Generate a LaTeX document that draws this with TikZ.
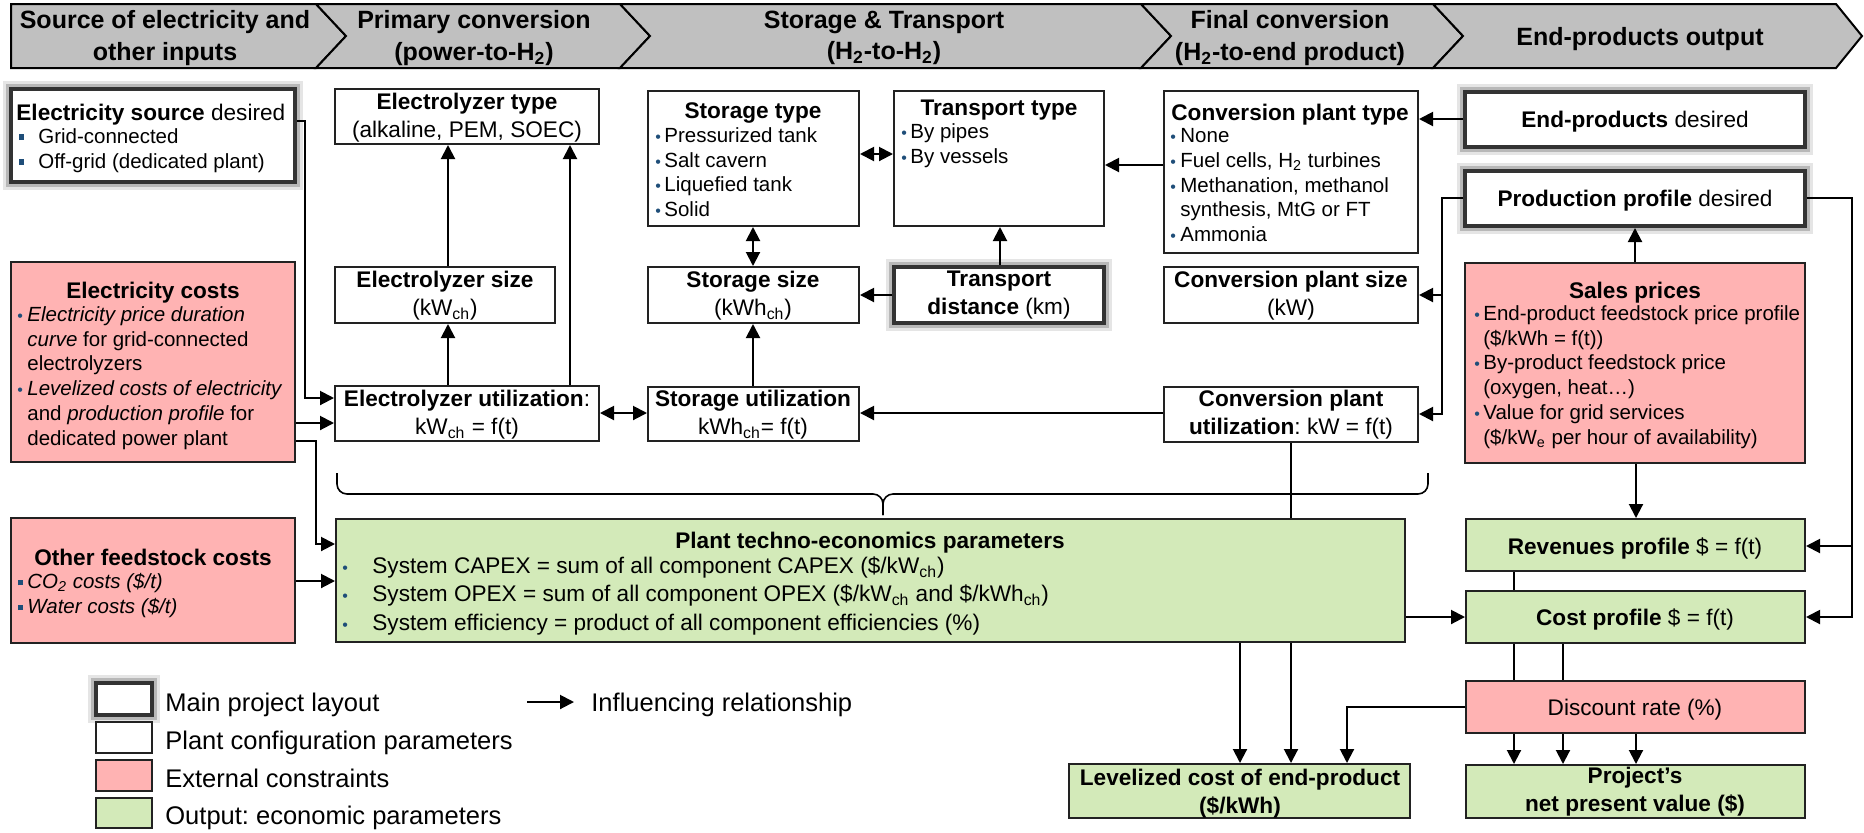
\documentclass[tikz,border=0pt]{standalone}
\usepackage{fontspec}
\setmainfont{Liberation Sans}
\usetikzlibrary{arrows.meta,fit,calc}
\frenchspacing
\definecolor{pinkf}{HTML}{FFB3B3}
\definecolor{greenf}{HTML}{D3EAB9}
\definecolor{bul}{HTML}{1F4E79}
\definecolor{bord}{HTML}{222222}
\definecolor{bann}{HTML}{C0C0C0}
\newcommand\Tf{\fontsize{11.3}{14}\selectfont}
\newcommand\Lf{\fontsize{10.25}{12.4}\selectfont}
\newcommand\Pf{\fontsize{11.3}{14.25}\selectfont}
\newcommand\Bf{\fontsize{12.5}{15.8}\selectfont\bfseries}
\newcommand\Gf{\fontsize{12.75}{15}\selectfont}
\newcommand\bu[1][4.5pt]{\makebox[#1][l]{\textcolor{bul}{\fontsize{8}{8}\selectfont •}}}
\newcommand\sqb[1][9.5pt]{\makebox[#1][l]{\textcolor{bul}{\rule[1.6pt]{2.4pt}{2.8pt}}}}
\newcommand\sub[1]{\textsubscript{#1}}
\tikzset{
 cfg/.style={draw=bord, line width=1pt, fill=white, inner sep=0},
 ext/.style={cfg, fill=pinkf},
 outp/.style={cfg, fill=greenf},
 mainbox/.style={draw=black!80, line width=2pt, fill=white, inner sep=0,
   preaction={draw=black!10, line width=8pt}, preaction={draw=black!28, line width=5pt}},
 tx/.style={inner sep=0, align=center, anchor=north, font=\Tf, execute at begin node=\strut, yshift=5.75pt},
 txl/.style={tx, align=left, anchor=north west},
 li/.style={inner sep=0, align=left, anchor=north west, font=\Lf, execute at begin node=\strut, yshift=5pt},
 pl/.style={inner sep=0, align=left, anchor=north west, font=\Pf, execute at begin node=\strut, yshift=5.93pt},
 bn/.style={inner sep=0, align=center, anchor=north, font=\Bf, execute at begin node=\strut, yshift=6.6pt},
 lg/.style={inner sep=0, anchor=north west, font=\Gf, execute at begin node=\strut, yshift=5.94pt},
 arr/.style={draw=black, line width=1pt, -{Triangle[length=7pt,width=7pt]}},
 darr/.style={draw=black, line width=1pt, {Triangle[length=7pt,width=7pt]}-{Triangle[length=7pt,width=7pt]}},
 ln/.style={draw=black, line width=1pt},
 seg/.style={fill=bann, draw=black, line width=1pt, line join=miter},
}
\begin{document}
\begin{tikzpicture}[x=0.5pt,y=-0.5pt]
\useasboundingbox (0,0) rectangle (1864,832);
% banner
\path[seg] (11,4) -- (316,4) -- (346,36) -- (316,68) -- (11,68) -- cycle;
\path[seg] (316,4) -- (620,4) -- (650,36) -- (620,68) -- (316,68) -- (346,36) -- cycle;
\path[seg] (620,4) -- (1141,4) -- (1171,36) -- (1141,68) -- (620,68) -- (650,36) -- cycle;
\path[seg] (1141,4) -- (1433,4) -- (1463,36) -- (1433,68) -- (1141,68) -- (1171,36) -- cycle;
\path[seg] (1433,4) -- (1836,4) -- (1862,36) -- (1836,68) -- (1433,68) -- (1463,36) -- cycle;
\node[bn] (h1) at (165,23.5) {Source of electricity and\\other inputs};
\node[bn] (h2) at (474,23.5) {Primary conversion\\(power-to-H\sub{2})};
\node[bn] (h3) at (884,23.5) {Storage \& Transport\\(H\sub{2}-to-H\sub{2})};
\node[bn] (h4) at (1290,23.5) {Final conversion\\(H\sub{2}-to-end product)};
\node[bn] (h5) at (1640,36) {End-products output};

% brace
\draw[ln, line width=0.8pt, rounded corners=5pt] (337,473) -- (337,494) -- (883,494) -- (883,515);
\draw[ln, line width=0.8pt, rounded corners=5pt] (1428,473) -- (1428,494) -- (883,494) -- (883,515);

% boxes
\node[mainbox, fit={(11,89) (295,182)}] (esrc) {};
\node[cfg, fit={(335,89) (599,144)}] (elt) {};
\node[cfg, fit={(335,267) (555,323)}] (els) {};
\node[cfg, fit={(335,386) (599,441)}] (elu) {};
\node[cfg, fit={(648,91) (859,226)}] (stt) {};
\node[cfg, fit={(894,91) (1104,226)}] (tt) {};
\node[cfg, fit={(648,267) (859,323)}] (sts) {};
\node[mainbox, fit={(894,267) (1104,323)}] (td) {};
\node[cfg, fit={(648,387) (859,441)}] (stu) {};
\node[cfg, fit={(1164,91) (1418,253)}] (cpt) {};
\node[cfg, fit={(1164,267) (1418,323)}] (cps) {};
\node[cfg, fit={(1164,387) (1418,442)}] (cpu) {};
\node[mainbox, fit={(1465,92) (1805,147)}] (epd) {};
\node[mainbox, fit={(1465,171) (1805,226)}] (ppd) {};
\node[ext, fit={(1465,263) (1805,463)}] (spr) {};
\node[ext, fit={(11,262) (295,462)}] (ecost) {};
\node[ext, fit={(11,518) (295,643)}] (ofc) {};
\node[outp, fit={(336,519) (1405,642)}] (pte) {};
\node[outp, fit={(1466,519) (1805,571)}] (rev) {};
\node[outp, fit={(1466,591) (1805,643)}] (cost) {};
\node[ext, fit={(1466,681) (1805,733)}] (dr) {};
\node[outp, fit={(1466,765) (1805,818)}] (npv) {};
\node[outp, fit={(1069,764) (1410,818)}] (lco) {};
% legend boxes
\node[mainbox, fit={(96,683) (152,715)}] (lg1) {};
\node[cfg, fit={(96,722) (152,753)}] (lg2) {};
\node[ext, fit={(96,760) (152,791)}] (lg3) {};
\node[outp, fit={(96,798) (152,828)}] (lg4) {};

% texts
\node[txl] (t-esrc) at (16,112) {\textbf{Electricity source} desired};
\node[li] (l-esrc) at (19,138) {\sqb Grid-connected\\\sqb Off-grid (dedicated plant)};
\node[tx] (t-elt) at (467,104) {\textbf{Electrolyzer type}\\(alkaline, PEM, SOEC)};
\node[tx] (t-els) at (445,282) {\textbf{Electrolyzer size}\\(kW\sub{ch})};
\node[tx] (t-elu) at (467,401) {\textbf{Electrolyzer utilization}:\\kW\sub{ch} = f(t)};
\node[tx] (t-stt) at (753,110) {\textbf{Storage type}};
\node[li] (l-stt) at (655,137) {\bu Pressurized tank\\\bu Salt cavern\\\bu Liquefied tank\\\bu Solid};
\node[tx] (t-tt) at (999,107) {\textbf{Transport type}};
\node[li] (l-tt) at (901,133) {\bu By pipes\\\bu By vessels};
\node[tx] (t-sts) at (753,282) {\textbf{Storage size}\\(kWh\sub{ch})};
\node[tx] (t-td) at (999,282) {\textbf{Transport}\\\textbf{distance} (km)};
\node[tx] (t-stu) at (753,401) {\textbf{Storage utilization}\\kWh\sub{ch}= f(t)};
\node[txl] (t-cpt) at (1171,112) {\textbf{Conversion plant type}};
\node[li] (l-cpt) at (1170,138) {\bu[5pt]None\\\bu[5pt]Fuel cells, H\sub{2} turbines\\\bu[5pt]Methanation, methanol\\\hspace*{5pt}synthesis, MtG or FT\\\bu[5pt]Ammonia};
\node[tx] (t-cps) at (1291,282) {\textbf{Conversion plant size}\\(kW)};
\node[tx] (t-cpu) at (1291,401) {\textbf{Conversion plant}\\\textbf{utilization}: kW = f(t)};
\node[tx] (t-epd) at (1635,119) {\textbf{End-products} desired};
\node[tx] (t-ppd) at (1635,198) {\textbf{Production profile} desired};
\node[tx] (t-spr) at (1635,290) {\textbf{Sales prices}};
\node[li] (l-spr) at (1474,315) {\bu End-product feedstock price profile\\\hspace*{4.5pt}(\$/kWh = f(t))\\\bu By-product feedstock price\\\hspace*{4.5pt}(oxygen, heat…)\\\bu Value for grid services\\\hspace*{4.5pt}(\$/kW\sub{e} per hour of availability)};
\node[tx] (t-ecost) at (153,290) {\textbf{Electricity costs}};
\node[li] (l-ecost) at (17,316) {\bu[5pt]\textit{Electricity price duration}\\\hspace*{5pt}\textit{curve} for grid-connected\\\hspace*{5pt}electrolyzers\\\bu[5pt]\textit{Levelized costs of electricity}\\\hspace*{5pt}and \textit{production profile} for\\\hspace*{5pt}dedicated power plant};
\node[tx] (t-ofc) at (153,557) {\textbf{Other feedstock costs}};
\node[li] (l-ofc) at (18,583) {\sqb[4.5pt]\textit{CO\sub{2} costs (\$/t)}\\\sqb[4.5pt]\textit{Water costs (\$/t)}};
\node[tx] (t-pte) at (870,540) {\textbf{Plant techno-economics parameters}};
\node[pl] (l-pte) at (342,568) {\bu[15pt]System CAPEX = sum of all component CAPEX (\$/kW\sub{ch})\\\bu[15pt]System OPEX = sum of all component OPEX (\$/kW\sub{ch} and \$/kWh\sub{ch})\\\bu[15pt]System efficiency = product of all component efficiencies (\%)};
\node[tx] (t-rev) at (1635,546) {\textbf{Revenues profile} \$ = f(t)};
\node[tx] (t-cost) at (1635,617) {\textbf{Cost profile} \$ = f(t)};
\node[tx] (t-dr) at (1635,707) {Discount rate (\%)};
\node[tx] (t-npv) at (1635,778) {\textbf{Project’s}\\\textbf{net present value (\$)}};
\node[tx] (t-lco) at (1240,780) {\textbf{Levelized cost of end-product}\\\textbf{(\$/kWh)}};
% legend texts
\node[lg] (g1) at (165,702) {Main project layout};
\node[lg] (g2) at (165,740) {Plant configuration parameters};
\node[lg] (g3) at (165,778) {External constraints};
\node[lg] (g4) at (165,815) {Output: economic parameters};
\node[lg] (g5) at (591,702) {Influencing relationship};
\coordinate (la) at (527,702);
\coordinate (lb) at (574,702);
\draw[arr] (la) -- (lb);

% connectors
\draw[arr] (esrc.east |- 0,121) -| (305,398) -- (elu.west |- 0,398);
\draw[arr] (ecost.east |- 0,423) -- (elu.west |- 0,423);
\draw[arr] (ecost.east |- 0,441) -| (316,544) -- (pte.west |- 0,544);
\draw[arr] (ofc.east |- 0,581) -- (pte.west |- 0,581);
\draw[darr] (elu.east |- 0,413) -- (stu.west |- 0,413);
\draw[arr] (cpu.west |- 0,413) -- (stu.east |- 0,413);
\draw[arr] (448,0 |- elu.north) -- (448,0 |- els.south);
\draw[arr] (448,0 |- els.north) -- (448,0 |- elt.south);
\draw[arr] (570,0 |- elu.north) -- (570,0 |- elt.south);
\draw[arr] (753,0 |- stu.north) -- (753,0 |- sts.south);
\draw[darr] (753,0 |- sts.north) -- (753,0 |- stt.south);
\draw[arr] (1000,0 |- td.north) -- (1000,0 |- tt.south);
\draw[arr] (td.west |- 0,295) -- (sts.east |- 0,295);
\draw[darr] (stt.east |- 0,154) -- (tt.west |- 0,154);
\draw[arr] (cpt.west |- 0,165) -- (tt.east |- 0,165);
\draw[arr] (epd.west |- 0,119) -- (cpt.east |- 0,119);
\draw[arr] (ppd.west |- 0,198) -| (1442,414) -- (cpu.east |- 0,414);
\draw[arr] (1442,295) -- (cps.east |- 0,295);
\draw[arr] (1635,0 |- spr.north) -- (1635,0 |- ppd.south);
\draw[arr] (1636,0 |- spr.south) -- (1636,0 |- rev.north);
\draw[arr] (ppd.east |- 0,198) -| (1852,617) -- (cost.east |- 0,617);
\draw[arr] (1852,546) -- (rev.east |- 0,546);
\draw[arr] (pte.east |- 0,617) -- (cost.west |- 0,617);
\draw[ln] (1514,0 |- rev.south) -- (1514,0 |- cost.north);
\draw[ln] (1514,0 |- cost.south) -- (1514,0 |- dr.north);
\draw[ln] (1563,0 |- cost.south) -- (1563,0 |- dr.north);
\draw[arr] (1514,0 |- dr.south) -- (1514,0 |- npv.north);
\draw[arr] (1563,0 |- dr.south) -- (1563,0 |- npv.north);
\draw[arr] (1636,0 |- dr.south) -- (1636,0 |- npv.north);
\draw[arr] (dr.west |- 0,707) -| (1347,0 |- lco.north);
\draw[arr] (1240,0 |- pte.south) -- (1240,0 |- lco.north);
\draw[ln] (1291,0 |- cpu.south) -- (1291,0 |- pte.north);
\draw[arr] (1291,0 |- pte.south) -- (1291,0 |- lco.north);
\end{tikzpicture}
\end{document}
